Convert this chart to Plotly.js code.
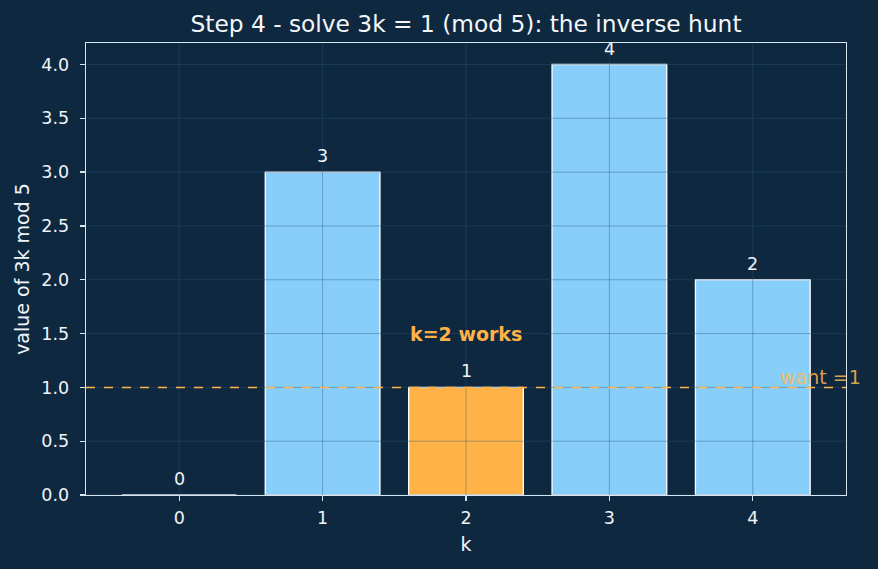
<!DOCTYPE html>
<html>
<head>
<meta charset="utf-8">
<script src="https://cdn.plot.ly/plotly-3.0.1.min.js"></script>
<style>html,body{margin:0;padding:0;background:#0e2840;}</style>
</head>
<body>
<div id="chart" style="width:878px;height:569px;"></div>
<script>
const kValues = [0, 1, 2, 3, 4];
const residues = [0, 3, 1, 4, 2];
const target = 1;
const yTicks = [0, 0.5, 1, 1.5, 2, 2.5, 3, 3.5, 4];
const yTickLabels = ['0.0','0.5','1.0','1.5','2.0','2.5','3.0','3.5','4.0'];

const bg = '#0e2840';
const barColors = residues.map(v => v === target ? '#ffb347' : '#87cefa');

const trace = {
  type: 'bar',
  x: kValues,
  y: residues,
  width: 0.8,
  marker: {color: barColors, line: {color: '#ffffff', width: 1.3}},
  hoverinfo: 'skip'
};

const annotations = kValues.map((k, i) => ({
  x: k, y: residues[i], xref: 'x', yref: 'y',
  text: String(residues[i]), showarrow: false,
  yanchor: 'bottom', yshift: 4,
  font: {family: 'DejaVu Sans', size: 17.5, color: '#f0f4f8'}
}));
annotations.push({
  x: 2, y: 1.5, xref: 'x', yref: 'y', text: '<b>k=2 works</b>', showarrow: false,
  font: {family: 'DejaVu Sans', size: 19, color: '#ffb347'}
});
annotations.push({
  x: 4.2, y: target, xref: 'x', yref: 'y', text: 'want =1', showarrow: false,
  xanchor: 'left', yanchor: 'bottom', yshift: -3, xshift: -3,
  font: {family: 'DejaVu Sans', size: 19, color: 'rgba(255,185,75,0.85)'}
});

const gridColor = 'rgba(40,85,125,0.5)';
const shapes = [];
yTicks.forEach(v => shapes.push({type:'line', xref:'paper', yref:'y', x0:0, x1:1, y0:v, y1:v, layer:'above', line:{color:gridColor, width:0.8}}));
kValues.forEach(k => shapes.push({type:'line', xref:'x', yref:'paper', x0:k, x1:k, y0:0, y1:1, layer:'above', line:{color:gridColor, width:0.8}}));
shapes.push({type:'line', xref:'paper', yref:'y', x0:0, x1:1, y0:target, y1:target, layer:'above', line:{color:'#ffb347', width:1.5, dash:'dash'}});

const layout = {
  width: 878, height: 569,
  paper_bgcolor: bg, plot_bgcolor: bg,
  margin: {l: 86, r: 32, t: 43, b: 74},
  title: {text: 'Step 4 - solve 3k = 1 (mod 5): the inverse hunt', xref: 'paper', x: 0.5, xanchor: 'center', y: 0.958, yanchor: 'middle',
          font: {family: 'DejaVu Sans', size: 23.3, color: '#f4f7fa'}},
  font: {family: 'DejaVu Sans', color: '#f0f4f8', size: 17.5},
  showlegend: false,
  xaxis: {
    range: [-0.65, 4.65], tickvals: kValues, ticktext: kValues.map(String),
    showgrid: false, zeroline: false,
    showline: true, mirror: true, linecolor: '#d6e4f0', linewidth: 1.3,
    ticks: 'outside', ticklen: 5, tickcolor: '#d6e4f0', tickwidth: 1.3,
    ticklabelstandoff: 2,
    tickfont: {family: 'DejaVu Sans', size: 17.5, color: '#f0f4f8'},
    title: {text: 'k', font: {family: 'DejaVu Sans', size: 19, color: '#f0f4f8'}, standoff: 10}
  },
  yaxis: {
    range: [0, 4.2], tickvals: yTicks, ticktext: yTickLabels,
    showgrid: false, zeroline: false,
    showline: true, mirror: true, linecolor: '#d6e4f0', linewidth: 1.3,
    ticks: 'outside', ticklen: 5, tickcolor: '#d6e4f0', tickwidth: 1.3,
    ticklabelstandoff: 7,
    tickfont: {family: 'DejaVu Sans', size: 17.5, color: '#f0f4f8'},
    title: {text: 'value of 3k mod 5', font: {family: 'DejaVu Sans', size: 19, color: '#f0f4f8'}, standoff: 6}
  },
  shapes: shapes,
  annotations: annotations
};

Plotly.newPlot('chart', [trace], layout, {displayModeBar: false, staticPlot: true});
</script>
</body>
</html>
